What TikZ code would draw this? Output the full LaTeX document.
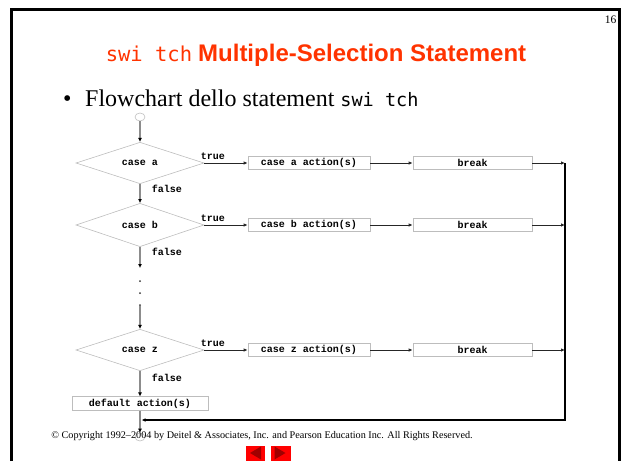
\documentclass[tikz,border=0pt]{standalone}
\usepackage{fontspec}
\setmainfont{Liberation Serif}
\setsansfont{Liberation Sans}
\setmonofont{Liberation Mono}
\newfontfamily\codefont{DejaVu Sans Mono}
\usetikzlibrary{shapes.geometric,arrows.meta}

\definecolor{titlered}{HTML}{FF3300}
\definecolor{boxgray}{HTML}{BDBDBD}
\definecolor{flowgray}{HTML}{8C8C8C}
\definecolor{navred}{HTML}{FF0000}
\definecolor{navdark}{HTML}{A00000}
\newcommand{\lblfont}{\fontsize{10}{12}\selectfont\ttfamily\bfseries}

\begin{document}
\begin{tikzpicture}[x=1pt, y=-1pt,
	decision/.style={diamond, draw=boxgray, line width=0.6pt, minimum width=128pt, minimum height=31pt, inner sep=0pt, font=\lblfont},
	action/.style={rectangle, draw=boxgray, line width=0.6pt, minimum height=13pt, inner sep=0pt, font=\lblfont},
	terminal/.style={ellipse, draw=boxgray, line width=0.6pt, minimum width=10pt, minimum height=8pt, inner sep=0pt},
	flow/.style={draw=flowgray, line width=1.8pt, -{Latex[color=black, length=4pt, width=4pt]}},
	link/.style={draw=black!85, line width=0.8pt, -{Latex[length=4pt, width=3.5pt]}},
	ret/.style={draw=black, line width=1.2pt, -{Latex[length=4pt, width=3.5pt]}},
	tag/.style={font=\lblfont, inner sep=1pt},
	dotmark/.style={circle, fill=black!80, inner sep=0pt, minimum size=2pt}]
	\useasboundingbox (0,0) rectangle (621,461);

	% slide frame, page number, headings
	\draw[line width=2.7pt] (11.4,461) -- (11.4,9.4) -- (619.6,9.4) -- (619.6,461);
	\node[anchor=base, inner sep=0pt, font=\fontsize{11.5}{13}\selectfont] (page) at (610.5,23) {16};
	\node[anchor=base, inner sep=0pt, text=titlered] (title) at (316,61)
		{{\fontsize{20.5}{24}\selectfont\codefont swi tch}\hspace{6pt}{\fontsize{24}{28}\selectfont\sffamily\bfseries Multiple-Selection Statement}};
	\node[anchor=base west, inner sep=0pt, font=\fontsize{24}{28}\selectfont] (bullet) at (63,106)
		{\textbullet\hspace{13.6pt}Flowchart dello statement {\fontsize{18.5}{22}\selectfont\codefont swi tch}};

	% decisions and actions
	\node[terminal] (start) at (140,117) {};
	\node[decision] (a) at (140,163) {case a};
	\node[decision] (b) at (140,225) {case b};
	\node[decision] (z) at (140,350) {case z};
	\node[action, minimum width=122pt] (aa) at (309,163) {case a action(s)};
	\node[action, minimum width=122pt] (ab) at (309,225) {case b action(s)};
	\node[action, minimum width=122pt] (az) at (309,350) {case z action(s)};
	\node[action, minimum width=119pt] (ka) at (472.5,163) {break};
	\node[action, minimum width=119pt] (kb) at (472.5,225) {break};
	\node[action, minimum width=119pt] (kz) at (472.5,350) {break};
	\node[action, minimum width=136pt, minimum height=13.5pt] (default) at (140,403.5) {default action(s)};
	\node[terminal] (end) at (140,437) {};
	\node[dotmark] (d1) at (140,281) {};
	\node[dotmark] (d2) at (140,293) {};
	\node[dotmark] (d3) at (140,305) {};
	\coordinate (gap) at (140,268);
	\coordinate (ra) at (565,163);
	\coordinate (rb) at (565,225);
	\coordinate (rz) at (565,350);
	\coordinate (join) at (141.5,420);

	% false branches
	\draw[flow] (start) -- (a);
	\draw[flow] (a) -- node[tag, anchor=west, xshift=10pt, pos=.25] {false} (b);
	\draw[flow] (b) -- node[tag, anchor=west, xshift=10pt, pos=.25] {false} (gap);
	\draw[flow] (d3) -- (z);
	\draw[flow] (z) -- node[tag, anchor=west, xshift=10pt, pos=.25] {false} (default);
	\draw[flow] (default) -- (end);

	% true branches
	\draw[link] (a) -- node[tag, above=2pt, pos=.2] {true} (aa);
	\draw[link] (b) -- node[tag, above=2pt, pos=.2] {true} (ab);
	\draw[link] (z) -- node[tag, above=2pt, pos=.2] {true} (az);
	\draw[link] (aa) -- (ka);
	\draw[link] (ab) -- (kb);
	\draw[link] (az) -- (kz);
	\draw[link] (ka) -- (ra);
	\draw[link] (kb) -- (rb);
	\draw[link] (kz) -- (rz);
	\draw[ret] (ra) |- (join);

	% footer
	\node[anchor=base, inner sep=0pt, font=\fontsize{10.2}{12}\selectfont] (copy) at (262,438)
		{\textcopyright{} Copyright 1992–2004 by Deitel \& Associates, Inc. and Pearson Education Inc. All Rights Reserved.};
	\fill[navred] (245.5,446) rectangle (265,461);
	\fill[navdark] (250,453) -- (261,446.5) -- (261,459.5) -- cycle;
	\fill[navred] (270.5,446) rectangle (290.5,461);
	\fill[navdark] (285.5,453) -- (274.5,446.5) -- (274.5,459.5) -- cycle;
\end{tikzpicture}
\end{document}
